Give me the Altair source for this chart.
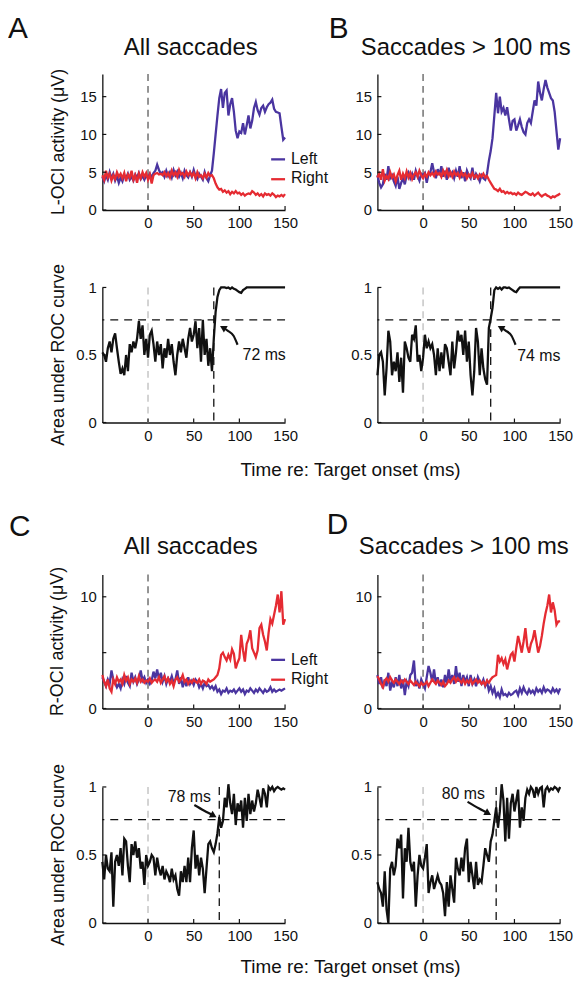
import altair as alt
import pandas as pd

TIME = list(range(-50, 151, 2))

A_LEFT = [4.4, 3.8, 4.6, 4.0, 5.0, 4.2, 4.8, 3.9, 4.5, 3.6,
          4.3, 3.8, 4.6, 4.2, 4.8, 4.0, 4.4, 3.9, 4.7, 4.3,
          4.9, 4.1, 4.5, 4.0, 4.6, 4.2, 4.8, 4.3, 4.9, 5.2,
          6.0, 5.3, 4.8, 5.0, 4.4, 5.2, 4.5, 5.0, 4.3, 5.3,
          4.6, 5.1, 4.4, 4.9, 4.2, 5.2, 4.6, 4.3, 5.0, 4.4,
          5.3, 4.5, 4.1, 4.8, 4.4, 4.0, 5.0, 4.2, 3.8, 4.6,
          5.2, 7.5, 10.0, 12.5, 14.8, 16.0, 13.5, 15.5, 15.8, 12.5,
          14.0, 14.8, 13.0, 10.5, 9.5, 10.4, 10.2, 11.5, 10.0, 11.2,
          12.5, 10.8, 11.8, 13.5, 14.3, 13.2, 12.6, 13.5, 13.8, 13.0,
          13.6, 14.0, 14.2, 14.6, 13.4, 13.0, 12.9, 12.8, 11.0, 9.3,
          9.6]
A_RIGHT = [4.6, 4.0, 5.2, 4.3, 4.8, 3.9, 4.6, 4.1, 5.0, 4.4,
           4.8, 4.2, 4.9, 3.8, 4.7, 4.3, 5.2, 4.0, 4.6, 3.6,
           4.8, 4.2, 5.0, 4.4, 4.9, 4.0, 4.7, 3.5, 4.6, 4.8,
           4.9, 4.7, 4.8, 4.6, 5.0, 4.5, 4.9, 4.3, 5.2, 4.6,
           5.0, 4.4, 5.3, 4.7, 4.9, 4.4, 5.1, 4.6, 5.0, 4.5,
           4.9, 4.2, 5.0, 4.4, 4.6, 4.2, 4.8, 4.3, 4.9, 4.5,
           4.6, 4.2, 3.5, 3.0, 2.7, 2.8, 2.4, 2.6, 2.3, 2.5,
           2.1, 2.4, 2.2, 2.5, 2.2, 2.3, 2.0, 2.2, 1.9, 2.1,
           2.2, 2.1, 2.5, 2.3, 2.0, 2.2, 1.9, 2.1, 1.8, 2.2,
           2.0, 2.1, 1.9, 2.2, 2.0, 1.7, 1.9, 1.8, 2.0, 1.8,
           2.1]
B_LEFT = [4.6, 3.6, 3.0, 3.4, 4.8, 4.0, 5.8, 4.2, 4.6, 3.8,
          3.2, 4.4, 2.8, 3.6, 4.2, 3.4, 4.6, 5.0, 4.2, 4.8,
          4.0, 5.2, 4.5, 3.9, 4.8, 4.6, 4.9, 3.6, 4.8, 5.0,
          6.2, 5.0, 4.2, 5.4, 4.6, 5.8, 4.4, 5.2, 4.0, 5.6,
          4.6, 5.0, 4.2, 5.2, 4.4, 5.8, 4.2, 5.0, 3.8, 5.2,
          4.6, 4.2, 5.6, 4.0, 4.8, 4.4, 3.8, 4.6, 4.2, 4.0,
          4.8, 6.5, 7.8, 9.5, 12.5, 15.5, 12.8, 15.0, 13.0, 13.5,
          12.5, 13.6, 12.0, 10.5, 11.8, 12.0, 10.5, 11.2, 12.0, 11.0,
          10.3, 10.0, 11.5, 12.0, 11.5, 13.0, 14.5, 13.8, 17.0, 15.5,
          14.5, 16.0, 17.2, 16.2, 15.5, 14.8, 14.5, 13.0, 10.5, 8.0,
          9.5]
B_RIGHT = [4.3, 4.8, 4.0, 5.4, 3.9, 4.5, 4.1, 5.0, 4.3, 4.7,
           3.8, 4.6, 5.2, 4.0, 4.8, 4.2, 5.1, 4.3, 4.9, 4.1,
           4.7, 5.0, 4.4, 5.2, 4.6, 4.2, 4.8, 4.4, 5.0, 4.6,
           4.9, 4.5, 5.1, 4.7, 4.9, 4.4, 5.2, 4.6, 5.3, 4.5,
           5.0, 4.4, 5.1, 4.6, 4.9, 4.3, 5.0, 4.5, 4.8, 4.2,
           4.7, 4.4, 4.9, 4.3, 4.6, 4.2, 4.7, 4.4, 4.8, 4.3,
           4.5, 4.0, 3.6, 3.2, 2.8, 2.7, 2.5, 2.8, 2.4, 2.5,
           2.2, 2.4, 2.2, 2.3, 2.1, 2.2, 2.0, 2.3, 2.1, 2.0,
           2.2, 2.4, 2.3, 2.1, 2.0, 2.2, 1.9, 2.1, 2.3, 2.0,
           1.8, 2.0, 2.1, 1.9, 1.8, 1.6, 1.8, 1.7, 1.9, 2.0,
           2.2]
C_LEFT = [2.8, 2.4, 2.0, 2.6, 2.2, 3.4, 2.6, 2.3, 1.9, 2.2,
          1.8, 2.6, 2.2, 2.9, 2.3, 2.0, 3.2, 2.4, 2.8, 2.2,
          2.6, 3.4, 2.5, 2.8, 2.3, 2.6, 2.2, 2.5, 3.3, 2.7,
          3.5, 2.6, 3.2, 2.4, 2.9, 2.2, 2.7, 2.4, 2.9, 2.3,
          2.6, 3.4, 2.2, 2.8, 1.9, 2.6, 2.0, 2.8, 2.2, 2.5,
          2.1, 2.6, 2.4, 1.9, 2.2, 1.8, 2.3, 2.0, 2.1, 1.8,
          2.0, 1.7, 2.0, 1.5, 1.7, 1.3, 1.6, 1.5, 1.8, 1.4,
          1.6, 1.5, 1.7, 1.4, 1.6, 1.8, 1.5, 1.7, 1.3, 1.6,
          1.5, 1.8, 1.6, 1.4, 1.7, 1.5, 1.8, 1.6, 1.4, 1.7,
          1.5, 1.6, 1.9, 1.5, 1.7, 1.5, 1.6, 1.7, 1.6, 1.7,
          1.8]
C_RIGHT = [3.0, 2.4, 2.0, 2.6, 1.8, 1.5, 2.6, 2.2, 2.8, 2.4,
           2.6, 2.2, 3.0, 2.5, 2.8, 2.2, 2.6, 2.4, 2.7, 2.3,
           2.9, 2.4, 2.6, 2.3, 2.5, 2.4, 2.7, 2.3, 2.5, 2.6,
           2.4, 2.8, 2.3, 2.6, 2.9, 2.4, 2.7, 2.2, 2.5, 2.0,
           2.6, 2.8, 2.4, 2.6, 3.0, 2.4, 2.6, 2.2, 2.5, 2.3,
           2.6, 2.4, 2.3, 2.6, 2.2, 2.5, 2.4, 2.2, 2.6, 2.4,
           2.5, 2.6, 2.8, 3.0, 3.6, 4.8, 5.0, 4.6, 4.3, 4.8,
           4.4, 5.3, 4.9, 3.6, 4.1, 4.5, 6.6, 5.2, 4.2, 5.8,
           6.2, 7.0, 5.4, 5.0, 4.6, 5.2, 7.2, 7.5, 6.6, 6.0,
           5.2, 6.8, 8.0, 7.6, 8.4, 9.2, 10.2, 8.6, 10.5, 7.5,
           8.0]
D_LEFT = [3.0, 2.2, 2.8, 1.8, 2.6, 2.0, 3.2, 1.6, 2.4, 1.9,
          2.8, 2.0, 3.0, 1.8, 2.6, 1.2, 2.4, 2.0, 3.0, 3.2,
          4.3, 2.0, 2.4, 1.8, 2.6, 2.2, 1.8, 2.8, 3.8, 3.2,
          2.4, 3.5, 2.2, 2.8, 2.0, 2.6, 1.9, 3.0, 2.2, 3.5,
          2.4, 3.0, 2.2, 3.8, 2.4, 3.2, 2.0, 3.0, 2.4, 2.8,
          2.0, 3.0, 2.2, 2.6, 2.0, 2.8, 2.4, 2.2, 2.6, 2.0,
          2.4, 1.6, 2.0, 1.4, 1.8, 1.1, 1.4, 1.0, 1.7, 1.2,
          1.3, 1.1, 1.4, 1.2, 1.3, 1.5, 1.6, 1.2, 1.8, 1.4,
          1.9, 1.5, 1.3, 1.7, 1.4, 1.6, 1.3, 1.8, 1.5, 1.7,
          1.4, 1.9, 1.5, 1.7, 1.6, 1.4, 1.8, 1.5, 1.7, 1.4,
          1.8]
D_RIGHT = [2.9, 2.6, 2.2, 1.9, 2.5, 2.7, 2.4, 2.8, 2.5, 2.3,
           2.6, 2.4, 2.2, 2.5, 2.3, 2.6, 2.4, 2.2, 2.5, 2.3,
           2.1, 2.4, 2.2, 2.0, 2.3, 2.1, 2.2, 2.4, 2.0, 2.3,
           2.6, 2.4, 2.2, 2.5, 2.3, 2.1, 2.4, 2.0, 2.2, 2.5,
           2.3, 2.6, 2.8, 2.4, 2.7, 2.5, 2.3, 2.6, 2.2, 2.5,
           2.3, 2.6, 2.2, 2.4, 2.6, 2.3, 2.5, 2.2, 2.4, 2.1,
           2.5, 2.3, 2.6, 2.8, 2.9, 3.0, 4.8, 4.2, 4.5, 4.0,
           4.4, 3.5, 4.2, 4.8, 5.0, 4.2, 5.4, 6.5, 5.8, 5.0,
           6.0, 7.2, 5.6, 5.0, 5.8, 6.2, 7.0, 6.0, 5.0, 5.6,
           6.5, 7.6, 8.5, 9.2, 10.2, 8.6, 9.5, 8.8, 7.5, 7.8,
           7.8]

ROC_A = [0.52, 0.50, 0.45, 0.55, 0.60, 0.52, 0.62, 0.66, 0.55, 0.45,
         0.36, 0.40, 0.35, 0.50, 0.38, 0.58, 0.52, 0.60, 0.55, 0.62,
         0.75, 0.62, 0.72, 0.50, 0.62, 0.48, 0.65, 0.68, 0.58, 0.45,
         0.60, 0.50, 0.58, 0.40, 0.55, 0.48, 0.62, 0.50, 0.58, 0.45,
         0.35, 0.50, 0.60, 0.52, 0.62, 0.55, 0.48, 0.62, 0.70, 0.60,
         0.65, 0.75, 0.55, 0.70, 0.45, 0.76, 0.50, 0.62, 0.42, 0.55,
         0.38, 0.62, 0.82, 0.93, 0.98, 1.00, 1.00, 1.00, 0.995, 1.00,
         0.99, 1.00, 0.99, 0.985, 0.975, 0.965, 0.96, 0.98, 0.99, 1.00,
         1.00, 1.00, 1.00, 1.00, 1.00, 1.00, 1.00, 1.00, 1.00, 1.00,
         1.00, 1.00, 1.00, 1.00, 1.00, 1.00, 1.00, 1.00, 1.00, 1.00,
         1.00]
ROC_B = [0.35, 0.50, 0.52, 0.45, 0.20, 0.40, 0.68, 0.60, 0.35, 0.45,
         0.38, 0.52, 0.30, 0.48, 0.22, 0.60, 0.55, 0.48, 0.45, 0.65,
         0.62, 0.72, 0.45, 0.50, 0.38, 0.48, 0.65, 0.55, 0.60, 0.55,
         0.58, 0.50, 0.35, 0.55, 0.38, 0.52, 0.40, 0.58, 0.55, 0.45,
         0.35, 0.60, 0.40, 0.52, 0.68, 0.60, 0.65, 0.50, 0.68, 0.45,
         0.60, 0.35, 0.20, 0.38, 0.70, 0.60, 0.35, 0.55, 0.40, 0.32,
         0.28, 0.70, 0.77, 0.85, 0.98, 1.00, 0.99, 1.00, 0.985, 1.00,
         1.00, 0.995, 1.00, 0.99, 0.98, 0.97, 0.965, 0.985, 1.00, 1.00,
         1.00, 1.00, 1.00, 1.00, 1.00, 1.00, 1.00, 1.00, 1.00, 1.00,
         1.00, 1.00, 1.00, 1.00, 1.00, 1.00, 1.00, 1.00, 1.00, 1.00,
         1.00]
ROC_C = [0.45, 0.32, 0.50, 0.40, 0.38, 0.52, 0.12, 0.45, 0.50, 0.42,
         0.55, 0.35, 0.62, 0.60, 0.42, 0.30, 0.58, 0.50, 0.60, 0.48,
         0.55, 0.40, 0.45, 0.28, 0.50, 0.42, 0.45, 0.50, 0.48, 0.35,
         0.48, 0.40, 0.35, 0.42, 0.32, 0.38, 0.35, 0.30, 0.40, 0.32,
         0.35, 0.25, 0.20, 0.38, 0.30, 0.42, 0.30, 0.48, 0.30, 0.55,
         0.68, 0.40, 0.50, 0.35, 0.48, 0.40, 0.22, 0.40, 0.58, 0.60,
         0.55, 0.52, 0.58, 0.66, 0.78, 0.70, 0.75, 0.92, 0.85, 1.02,
         0.88, 0.80, 0.95, 0.72, 0.88, 0.82, 0.90, 0.70, 0.92, 0.75,
         0.95, 0.80, 0.90, 0.82, 0.88, 0.98, 0.92, 0.85, 0.99, 0.95,
         0.85, 1.00, 0.98, 1.00, 0.97, 0.99, 1.00, 0.99, 0.98, 0.99,
         0.98]
ROC_D = [0.30, 0.25, 0.22, 0.12, 0.38, 0.10, 0.00, 0.40, 0.45, 0.35,
         0.42, 0.62, 0.55, 0.65, 0.18, 0.55, 0.45, 0.70, 0.45, 0.38,
         0.45, 0.12, 0.35, 0.50, 0.42, 0.40, 0.48, 0.58, 0.22, 0.30,
         0.35, 0.25, 0.30, 0.35, 0.30, 0.28, 0.22, 0.05, 0.30, 0.12,
         0.35, 0.25, 0.15, 0.48, 0.40, 0.35, 0.48, 0.38, 0.55, 0.62,
         0.30, 0.45, 0.35, 0.25, 0.45, 0.28, 0.32, 0.30, 0.42, 0.55,
         0.50, 0.45, 0.60, 0.65, 0.75, 0.85, 0.70, 0.82, 1.02, 0.90,
         0.60, 0.92, 0.62, 0.88, 0.95, 0.82, 0.90, 0.98, 0.70, 0.85,
         0.75, 0.92, 0.98, 0.95, 1.00, 0.98, 0.92, 1.00, 0.95, 0.99,
         1.00, 0.85, 0.98, 1.00, 0.97, 0.99, 0.98, 1.00, 0.99, 0.97,
         1.00]

X_TICKS = [0, 50, 100, 150]
THRESHOLD = 0.76

FONT = "Liberation Sans"
BLUE = "#4a35a0"
RED = "#e52b32"
INK = "#111111"
W = 184
NOVIEW = alt.ViewBackground(stroke="transparent", strokeWidth=0, fill="transparent")


def one():
    return pd.DataFrame({"k": [0]})


def label(text, x, y, size, align="left", baseline="alphabetic", angle=None):
    kw = dict(text=text, font=FONT, fontSize=size, align=align, baseline=baseline, color=INK)
    if angle is not None:
        kw["angle"] = angle
    return alt.Chart(one()).mark_text(**kw).encode(x=alt.value(x), y=alt.value(y))


def enc_x():
    return alt.X("t:Q", scale=alt.Scale(domain=[-50, 150], nice=False, zero=False),
                 axis=alt.Axis(values=X_TICKS, title=None, ticks=False, grid=False,
                               labelFont=FONT, labelFontSize=15, labelColor=INK,
                               labelPadding=6, labelFlush=False,
                               domainColor=INK, domainWidth=1.3))


def enc_y(ymax, labvals, fmt):
    return alt.Y("v:Q", scale=alt.Scale(domain=[0, ymax], nice=False, zero=True),
                 axis=alt.Axis(values=labvals, format=fmt, title=None, ticks=False, grid=False,
                               labelFont=FONT, labelFontSize=15, labelColor=INK,
                               labelPadding=6, labelFlush=False,
                               domainColor=INK, domainWidth=1.3))


def tick_layers(h, X, Y, yvals):
    xt = alt.Chart(pd.DataFrame({"t": X_TICKS})).mark_rule(color=INK, strokeWidth=1.2).encode(
        x=X, y=alt.value(h), y2=alt.value(h - 4))
    yt = alt.Chart(pd.DataFrame({"v": yvals})).mark_rule(color=INK, strokeWidth=1.2).encode(
        y=Y, x=alt.value(0), x2=alt.value(4))
    return [xt, yt]


def top_panel(left, right, ymax, labvals, tickvals, h, letter, lx, ly, title, tx, ty,
              ytitle=None, ytx=-44, legend=False):
    X = enc_x()
    Y = enc_y(ymax, labvals, "d")
    zero = alt.Chart(pd.DataFrame({"t": [0]})).mark_rule(
        color="#7a7a7a", strokeWidth=1.6, strokeDash=[7, 5]).encode(x=X)
    lb = alt.Chart(pd.DataFrame({"t": TIME, "v": left})).mark_line(
        color=BLUE, strokeWidth=2.3).encode(x=X, y=Y)
    lr = alt.Chart(pd.DataFrame({"t": TIME, "v": right})).mark_line(
        color=RED, strokeWidth=2.3).encode(x=X, y=Y)
    layers = [zero, lb, lr] + tick_layers(h, X, Y, tickvals)
    layers.append(label(letter, lx, ly, 30, baseline="top"))
    layers.append(label(title, tx, ty, 24, align="center"))
    if ytitle:
        layers.append(label(ytitle, ytx, h / 2, 18, align="center", baseline="middle", angle=270))
    if legend:
        layers.append(alt.Chart(one()).mark_rule(color=BLUE, strokeWidth=2.3).encode(
            x=alt.value(170), x2=alt.value(184), y=alt.value(86)))
        layers.append(alt.Chart(one()).mark_rule(color=RED, strokeWidth=2.3).encode(
            x=alt.value(170), x2=alt.value(184), y=alt.value(106)))
        layers.append(label("Left", 190, 86, 16, baseline="middle"))
        layers.append(label("Right", 190, 105, 16, baseline="middle"))
    return alt.layer(*layers).properties(width=W, height=h, view=NOVIEW)


def bottom_panel(roc, onset, h, arrow_t, arrow_v, head_angle, ann, ann_t, ann_v, ann_align,
                 ytitle=None, ytx=-44, xtitle=None, xty=190):
    X = enc_x()
    Y = enc_y(1, [0, 0.5, 1], ".1~f")
    zero = alt.Chart(pd.DataFrame({"t": [0]})).mark_rule(
        color="#c9c9c9", strokeWidth=1.6, strokeDash=[7, 5]).encode(x=X)
    ons = alt.Chart(pd.DataFrame({"t": [onset]})).mark_rule(
        color=INK, strokeWidth=1.3, strokeDash=[8, 6]).encode(x=X)
    thr = alt.Chart(pd.DataFrame({"v": [THRESHOLD]})).mark_rule(
        color=INK, strokeWidth=1.3, strokeDash=[8, 6]).encode(y=Y)
    line = alt.Chart(pd.DataFrame({"t": TIME, "v": roc})).mark_line(
        color=INK, strokeWidth=2.3).encode(x=X, y=Y)
    arr = alt.Chart(pd.DataFrame({"t": arrow_t, "v": arrow_v})).mark_line(
        color=INK, strokeWidth=2.2, interpolate="monotone").encode(x=X, y=Y)
    head = alt.Chart(pd.DataFrame({"t": [arrow_t[-1]], "v": [arrow_v[-1]]})).mark_point(
        shape="triangle-up", filled=True, size=60, angle=head_angle, color=INK, opacity=1).encode(x=X, y=Y)
    txt = alt.Chart(pd.DataFrame({"t": [ann_t], "v": [ann_v]})).mark_text(
        text=ann, font=FONT, fontSize=16, align=ann_align, baseline="middle", color=INK).encode(x=X, y=Y)
    layers = [zero, ons, thr, line, arr, head, txt] + tick_layers(h, X, Y, [0, 0.5, 1])
    if ytitle:
        layers.append(label(ytitle, ytx, h / 2, 18, align="center", baseline="middle", angle=270))
    if xtitle:
        layers.append(label(xtitle, 250, xty, 19, align="center"))
    return alt.layer(*layers).properties(width=W, height=h, view=NOVIEW)


def spacer(h):
    return alt.Chart(one()).mark_text(text=" ", opacity=0).encode(
        x=alt.value(W / 2), y=alt.value(h / 2)).properties(width=W, height=h, view=NOVIEW)


XT = "Time re: Target onset (ms)"

a_top = top_panel(A_LEFT, A_RIGHT, 18, [0, 5, 10, 15], [0, 5, 10, 15], 137, "A", -95, -60,
                  "All saccades", 89, -19, ytitle="L-OCI activity (\u03bcV)", legend=True)
b_top = top_panel(B_LEFT, B_RIGHT, 18, [0, 5, 10, 15], [0, 5, 10, 15], 137, "B", -49, -60,
                  "Saccades > 100 ms", 89, -19)
a_bot = bottom_panel(ROC_A, 72, 136, [98.0, 93.6, 87.1, 82.0], [0.576, 0.642, 0.681, 0.703], 300,
                     "72 ms", 103.5, 0.50, "left", ytitle="Area under ROC curve", xtitle=XT, xty=190)
b_bot = bottom_panel(ROC_B, 74, 136, [101.2, 96.8, 90.3, 84.9], [0.576, 0.642, 0.681, 0.703], 300,
                     "74 ms", 103, 0.49, "left")
c_top = top_panel(C_LEFT, C_RIGHT, 12, [0, 10], [0, 5, 10], 135, "C", -94, -63,
                  "All saccades", 89, -21, ytitle="R-OCI activity (\u03bcV)", ytx=-45, legend=True)
d_top = top_panel(D_LEFT, D_RIGHT, 12, [0, 10], [0, 5, 10], 135, "D", -51, -65,
                  "Saccades > 100 ms", 87, -21)
c_bot = bottom_panel(ROC_C, 78, 137, [50.7, 61.6, 71.8], [0.867, 0.825, 0.789], 119,
                     "78 ms", 45.3, 0.927, "center", ytitle="Area under ROC curve", xtitle=XT, xty=187)
d_bot = bottom_panel(ROC_D, 80, 137, [48.7, 61.4, 71.2], [0.891, 0.842, 0.806], 119,
                     "80 ms", 44, 0.947, "center")

cells = [a_top, b_top,
         spacer(78), spacer(78),
         a_bot, b_bot,
         spacer(153), spacer(153),
         c_top, d_top,
         spacer(79), spacer(79),
         c_bot, d_bot]

chart = alt.concat(
    *cells, columns=2, spacing={"row": 0, "column": 93}, bounds="flush"
).resolve_scale(
    x="independent", y="independent"
).properties(
    padding={"left": 0, "top": 3, "right": 4, "bottom": 4}
).configure_view(stroke="transparent", strokeWidth=0).configure(background="white")

chart.save("out.html", embed_options={"renderer": "svg", "actions": False})
